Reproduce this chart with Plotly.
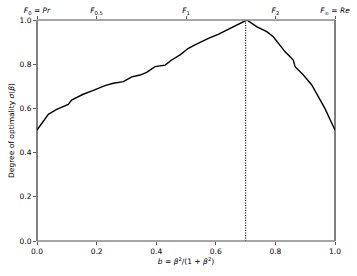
import plotly.graph_objects as go

b_vals = [0.0, 0.038, 0.066, 0.105, 0.116, 0.155, 0.189, 0.228, 0.256, 0.290, 0.318, 0.346,
          0.368, 0.396, 0.430, 0.452, 0.480, 0.508, 0.530, 0.575, 0.608, 0.642, 0.681, 0.704,
          0.737, 0.771, 0.793, 0.810, 0.832, 0.860, 0.866, 0.894, 0.922, 0.944, 0.966, 1.0]
sigma_vals = [0.502, 0.573, 0.596, 0.618, 0.638, 0.664, 0.682, 0.703, 0.714, 0.721, 0.743, 0.751,
              0.763, 0.789, 0.796, 0.819, 0.842, 0.872, 0.887, 0.917, 0.935, 0.959, 0.985, 1.0,
              0.970, 0.947, 0.924, 0.894, 0.857, 0.819, 0.789, 0.751, 0.706, 0.653, 0.600, 0.502]
b_opt = 0.70

x_ticks = [0.0, 0.2, 0.4, 0.6, 0.8, 1.0]
x_ticklabels = ["0.0", "0.2", "0.4", "0.6", "0.8", "1.0"]
y_ticks = [0.0, 0.2, 0.4, 0.6, 0.8, 1.0]
y_ticklabels = ["0.0", "0.2", "0.4", "0.6", "0.8", "1.0"]
top_ticks = [0.0, 0.2, 0.5, 0.8, 1.0]
top_ticklabels = ["<i>F</i><sub>0</sub> = <i>Pr</i>", "<i>F</i><sub>0.5</sub>", "<i>F</i><sub>1</sub>",
                  "<i>F</i><sub>2</sub>", "<i>F</i><sub>∞</sub> = <i>Re</i>"]

font = dict(family="DejaVu Sans", size=7.5, color="black")

fig = go.Figure()
fig.add_trace(go.Scatter(x=b_vals, y=sigma_vals, mode="lines",
                         line=dict(color="black", width=1.4), showlegend=False))
fig.add_trace(go.Scatter(x=[b_opt, b_opt], y=[0, 1], mode="lines",
                         line=dict(color="black", width=1.2, dash="1px,1.5px"), showlegend=False))
# dummy trace for top axis
fig.add_trace(go.Scatter(x=[0, 1], y=[0, 1], xaxis="x2", mode="lines",
                         line=dict(width=0), hoverinfo="skip", showlegend=False))

# spines
fig.add_shape(type="line", xref="paper", yref="paper", x0=0, x1=0, y0=0, y1=1,
              line=dict(color="black", width=1))
fig.add_shape(type="line", xref="paper", yref="paper", x0=1, x1=1, y0=0, y1=1,
              line=dict(color="black", width=1))
fig.add_shape(type="line", xref="paper", yref="paper", x0=0, x1=1, y0=0, y1=0,
              line=dict(color="#888888", width=1.3))
fig.add_shape(type="line", xref="paper", yref="paper", x0=0, x1=1, y0=1, y1=1,
              line=dict(color="#888888", width=1.3))

fig.update_layout(
    width=357, height=276,
    margin=dict(l=37, r=22, t=20, b=35, autoexpand=False),
    plot_bgcolor="white", paper_bgcolor="white",
    font=font,
    xaxis=dict(range=[0, 1], tickvals=x_ticks, ticktext=x_ticklabels, showgrid=False,
               zeroline=False, showline=False, ticks="outside", ticklen=3, tickcolor="#555",
               tickfont=font, automargin=False,
               title=dict(text="<i>b</i> = <i>β</i><sup>2</sup>/(1 + <i>β</i><sup>2</sup>)",
                          font=font, standoff=3)),
    xaxis2=dict(range=[0, 1], overlaying="x", side="top", tickvals=top_ticks,
                ticktext=top_ticklabels, showgrid=False, zeroline=False, showline=False,
                ticks="outside", ticklen=3, tickcolor="#555", tickfont=font, automargin=False),
    yaxis=dict(range=[0, 1], tickvals=y_ticks, ticktext=y_ticklabels, showgrid=False,
               zeroline=False, showline=False, ticks="outside", ticklen=3, tickcolor="#555",
               tickfont=font, automargin=False,
               title=dict(text="Degree of optimality <i>σ</i>(<i>β</i>)", font=font, standoff=3)),
)

fig.write_html("out.html", config={"displayModeBar": False},
               post_script="document.body.style.margin='0';document.body.style.padding='0';")
